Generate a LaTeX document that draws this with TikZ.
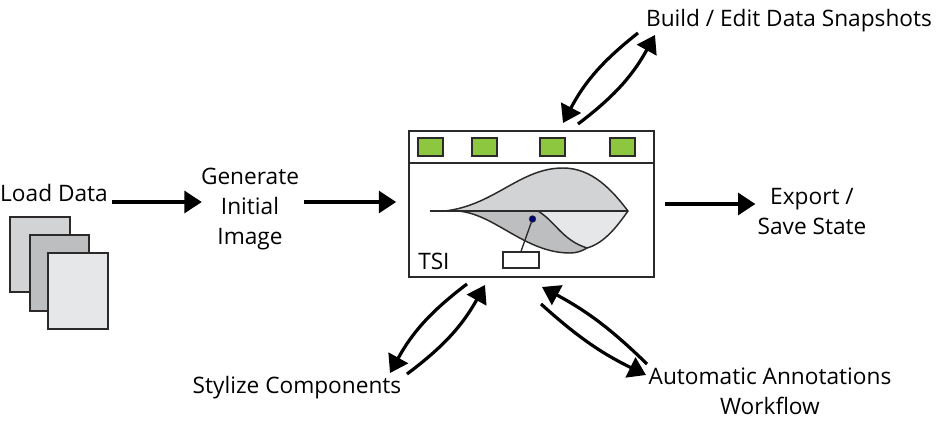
\documentclass[tikz,border=0pt]{standalone}
\usepackage{fontspec}
\setmainfont{Open Sans}
\usetikzlibrary{arrows.meta}
\definecolor{btngreen}{HTML}{8DC63F}
\definecolor{inkline}{HTML}{2B2A29}
\definecolor{leaflight}{HTML}{E6E7E8}
\definecolor{leafmid}{HTML}{D1D3D4}
\definecolor{leafdark}{HTML}{BCBEC0}
\begin{document}
\begin{tikzpicture}[x=0.75pt,y=-0.75pt,
  label/.style={font=\fontsize{17}{22.5}\selectfont,align=center,inner sep=0pt,text=black},
  flow/.style={line width=2.4pt,-{Triangle[length=13pt,width=16.5pt]}},
  sheet/.style={draw=inkline,line width=1.3pt,minimum width=44.5pt,minimum height=56.5pt,inner sep=0pt},
  btn/.style={draw=inkline,line width=1.2pt,fill=btngreen,minimum width=18.5pt,minimum height=13.5pt,inner sep=0pt},
  leaf/.style={draw=inkline,line width=1.1pt,line join=round}]
\path[use as bounding box] (0,0) rectangle (947,425);
% labels
\node[label] (load) at (54,193) {Load Data};
\node[label] (generate) at (250,209) {Generate\\Initial\\Image};
\node[label] (export) at (812,212) {Export /\\Save State};
\node[label] (build) at (789,21) {Build / Edit Data Snapshots};
\node[label] (stylize) at (297,388) {Stylize Components};
\node[label] (annot) at (770,391) {Automatic Annotations\\Workflow};
% stacked data sheets
\node[sheet,fill=leafmid] (sheetA) at (40,254.5) {};
\node[sheet,fill=leafdark] (sheetB) at (59.5,273) {};
\node[sheet,fill=leaflight] (sheetC) at (78,291) {};
% TSI window
\node[draw=inkline,line width=1.3pt,minimum width=183.75pt,minimum height=109.5pt,inner sep=0pt] (tsi) at (531.5,204) {};
\draw[inkline,line width=1.3pt] (tsi.west |- 0,163) coordinate (barleft) -- (tsi.east |- 0,163) coordinate (barright);
\node[btn] (btnA) at (430.5,147) {};
\node[btn] (btnB) at (484.5,147) {};
\node[btn] (btnC) at (552.5,147) {};
\node[btn] (btnD) at (622.5,147) {};
% leaf plot
\fill[leaflight] (538,211) .. controls (556,222) and (562,240) .. (587,248)
  .. controls (605,243) and (618,225) .. (628,211) -- cycle;
\draw[leaf,fill=leafmid] (445,211) .. controls (495,205) and (520,168) .. (563,168)
  .. controls (592,168) and (612,190) .. (628,211) -- cycle;
\draw[leaf,fill=leafdark] (458,211) .. controls (495,214) and (525,253) .. (570,253)
  .. controls (577,253) and (582,251) .. (587,248)
  .. controls (562,240) and (556,222) .. (538,211) -- cycle;
\draw[leaf] (587,248) .. controls (605,243) and (618,225) .. (628,211);
\draw[leaf,line width=1.4pt] (430,211) -- (628,211);
% callout
\node[draw=inkline,line width=1pt,fill=white,minimum width=27pt,minimum height=12pt,inner sep=0pt] (callout) at (521,260) {};
\node[circle,draw=inkline,fill=blue!45!black,line width=0.4pt,minimum size=5pt,inner sep=0pt] (probe) at (532.5,219) {};
\draw[inkline,line width=1pt] (probe) -- (callout.north);
\node[label,anchor=west] (tsilabel) at (418,261) {TSI};
% straight flows
\draw[flow,shorten <=3pt] ([yshift=-6.75pt]load.east) -- ([yshift=5.25pt,xshift=0.75pt]generate.west);
\draw[flow,shorten <=3.75pt,shorten >=9pt] ([yshift=5.25pt]generate.east) -- ([yshift=1.5pt]tsi.west);
\draw[flow,shorten <=7.5pt,shorten >=1.5pt] (tsi.east) -- ([yshift=6pt]export.west);
% loops around the window
\coordinate (buildout) at (638,33);
\coordinate (buildin) at (655,35);
\coordinate (topout) at (578,124);
\coordinate (topin) at (563,123);
\draw[flow] (buildout) to[bend right=12] (topin);
\draw[flow] (topout) to[bend right=12] (buildin);
\coordinate (leftout) at (467,284);
\coordinate (leftin) at (485,285);
\coordinate (styleout) at (407,374);
\coordinate (stylein) at (390,373);
\draw[flow] (leftout) to[bend right=12] (stylein);
\draw[flow] (styleout) to[bend right=12] (leftin);
\coordinate (rightin) at (542,287);
\coordinate (rightout) at (541,304);
\coordinate (annotout) at (647,364);
\coordinate (annotin) at (646,375);
\draw[flow] (annotout) to[bend right=8] (rightin);
\draw[flow] (rightout) to[bend right=8] (annotin);
\end{tikzpicture}
\end{document}
